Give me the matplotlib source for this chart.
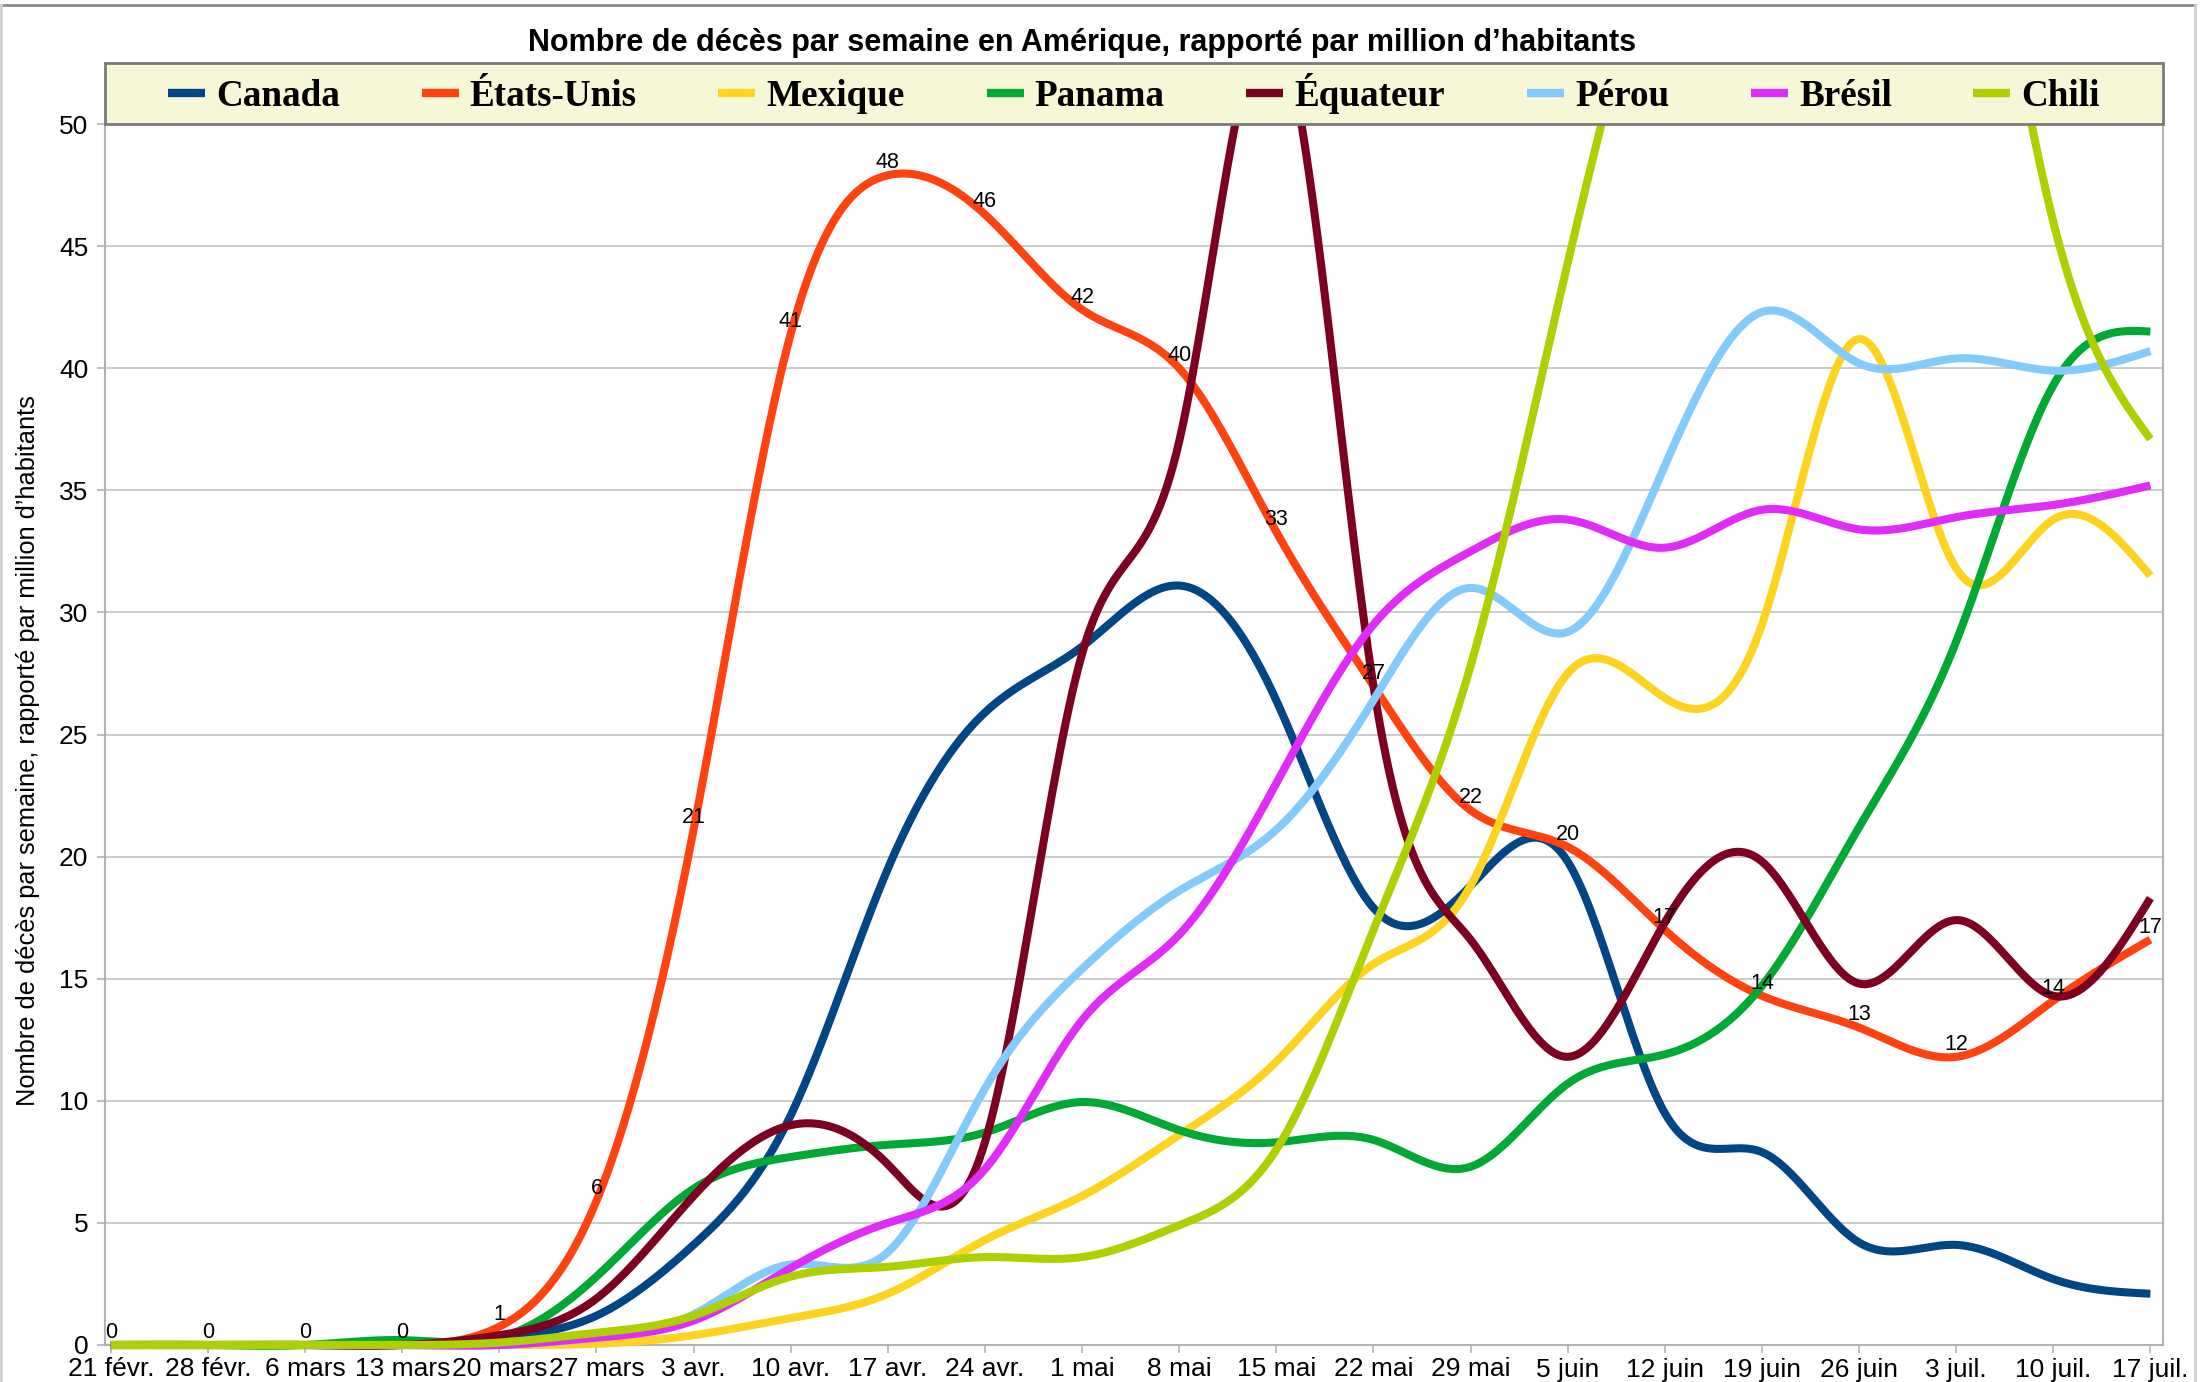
import numpy as np
import matplotlib
matplotlib.use("Agg")
import matplotlib.pyplot as plt
from matplotlib.patches import Rectangle
from matplotlib.lines import Line2D

plt.rcParams['font.family'] = ['Liberation Sans', 'DejaVu Sans']

# ---------------- data ----------------
dates = ["21 févr.", "28 févr.", "6 mars", "13 mars", "20 mars", "27 mars", "3 avr.",
         "10 avr.", "17 avr.", "24 avr.", "1 mai", "8 mai", "15 mai", "22 mai", "29 mai",
         "5 juin", "12 juin", "19 juin", "26 juin", "3 juil.", "10 juil.", "17 juil."]

canada = [0, 0, 0, 0, 0.3, 1.2, 4.1, 9.4, 19.5, 25.9, 28.6, 31.1, 26.4, 17.9, 18.8, 19.8,
          9.5, 7.9, 4.2, 4.1, 2.7, 2.1]
etats_unis = [0, 0, 0, 0, 0.75, 5.9, 21.1, 41.4, 47.9, 46.3, 42.4, 40.0, 33.3, 27.0, 21.9, 20.4,
              17.0, 14.3, 13.0, 11.8, 14.1, 16.6]
mexique = [0, 0, 0, 0, 0, 0.05, 0.4, 1.1, 2.1, 4.3, 6.1, 8.6, 11.6, 15.6, 18.8, 27.5,
           26.5, 29.5, 41.2, 31.8, 33.8, 31.5]
panama = [0, 0, 0, 0.2, 0.3, 2.8, 6.4, 7.7, 8.2, 8.7, 9.95, 8.8, 8.3, 8.4, 7.3, 10.7,
          11.9, 14.7, 21.2, 28.8, 39.3, 41.5]
equateur = [0, 0, 0, 0, 0.4, 1.9, 6.1, 9.0, 7.4, 8.3, 28.3, 37.0, 54.0, 27.0, 16.6, 11.8,
            17.3, 19.8, 14.8, 17.4, 14.3, 18.3]
perou = [0, 0, 0, 0, 0, 0.3, 1.25, 3.3, 3.8, 10.5, 15.4, 18.6, 21.1, 26.4, 31.0, 29.2,
         36.0, 42.3, 40.2, 40.4, 39.9, 40.7]
bresil = [0, 0, 0, 0, 0, 0.3, 1.0, 3.15, 5.0, 7.2, 13.3, 16.8, 23.0, 29.5, 32.5, 33.8,
          32.65, 34.2, 33.4, 33.9, 34.4, 35.2]
chili = [0, 0, 0, 0, 0.1, 0.5, 1.2, 2.8, 3.2, 3.6, 3.6, 4.9, 8.0, 17.0, 27.8, 44.3,
         60.0, 72.0, 72.0, 65.0, 46.0, 37.1]

names = ["Canada", "États-Unis", "Mexique", "Panama", "Équateur", "Pérou", "Brésil", "Chili"]
values = [canada, etats_unis, mexique, panama, equateur, perou, bresil, chili]
colors = ["#004586", "#ff420e", "#ffd320", "#00a933", "#7e0021", "#83caff", "#e02cf8", "#aecf00"]

title = "Nombre de décès par semaine en Amérique, rapporté par million d’habitants"
ylabel = "Nombre de décès par semaine, rapporté par million d’habitants"


def natural_spline(x, y, per=30):
    x = np.asarray(x, float)
    y = np.asarray(y, float)
    n = len(x)
    h = np.diff(x)
    A = np.zeros((n, n))
    b = np.zeros(n)
    A[0, 0] = 1
    A[-1, -1] = 1
    for i in range(1, n - 1):
        A[i, i - 1] = h[i - 1]
        A[i, i] = 2 * (h[i - 1] + h[i])
        A[i, i + 1] = h[i]
        b[i] = 6 * ((y[i + 1] - y[i]) / h[i] - (y[i] - y[i - 1]) / h[i - 1])
    M = np.linalg.solve(A, b)
    xs_all, ys_all = [], []
    for i in range(n - 1):
        t = np.linspace(x[i], x[i + 1], per, endpoint=(i == n - 2))
        a = x[i + 1] - t
        c = t - x[i]
        s = (M[i] * a ** 3 / (6 * h[i]) + M[i + 1] * c ** 3 / (6 * h[i])
             + (y[i] / h[i] - M[i] * h[i] / 6) * a + (y[i + 1] / h[i] - M[i + 1] * h[i] / 6) * c)
        xs_all.append(t)
        ys_all.append(s)
    return np.concatenate(xs_all), np.concatenate(ys_all)


W, H = 2202, 1382
fig = plt.figure(figsize=(W / 100, H / 100), dpi=100)
ax_l, ax_r, ax_t, ax_b = 105, 2163, 124, 1345
ax = fig.add_axes([ax_l / W, 1 - ax_b / H, (ax_r - ax_l) / W, (ax_b - ax_t) / H])

x = np.arange(len(dates))
handles = []
for name, vals, col in zip(names, values, colors):
    xs, ys = natural_spline(x, vals)
    ln, = ax.plot(xs, ys, color=col, lw=5.8, solid_capstyle='butt', solid_joinstyle='round',
                  zorder=3)
    clip = Rectangle((0, -0.03), 1, 1.03, transform=ax.transAxes)
    ln.set_clip_path(clip)
    handles.append(Line2D([], [], color=col, lw=6, solid_capstyle='butt', label=name))

for i, v in enumerate(etats_unis):
    ax.annotate(f"{int(round(v))}", (i, v), xytext=(0, 1.5), textcoords='offset points',
                ha='center', va='bottom', fontsize=15.5, color='black', zorder=6)

ax.set_xlim(-0.06, 21.13)
ax.set_ylim(0, 50)
ax.set_xticks(x)
ax.set_xticklabels(dates)
ax.set_yticks(np.arange(0, 51, 5))
ax.tick_params(axis='x', length=6, width=1.2, color='#b3b3b3', pad=3, labelsize=19)
ax.tick_params(axis='y', length=6, width=1.2, color='#b3b3b3', pad=6, labelsize=19)
ax.yaxis.grid(True, color='#c8c8c8', lw=1.3)
ax.set_axisbelow(True)
for s in ['left', 'bottom', 'right']:
    ax.spines[s].set_color('#b3b3b3')
    ax.spines[s].set_linewidth(1.5)
ax.spines['top'].set_visible(False)

# title and y label
fig.text(1082 / W, 1 - 43 / H, title, ha='center', va='center', fontsize=22, fontweight='bold')
fig.text(28 / W, 1 - 751 / H, ylabel, ha='center', va='center', rotation=90, fontsize=18.3)

# legend box
lg_top, lg_bot = 63, 124
fig.patches.append(Rectangle((ax_l / W, 1 - lg_bot / H), (ax_r - ax_l) / W, (lg_bot - lg_top) / H,
                             transform=fig.transFigure, facecolor='#f6f7d6', edgecolor='#7a7a7a',
                             lw=2, zorder=5))
leg = fig.legend(handles=handles, loc='center',
                 bbox_to_anchor=((ax_l + ax_r) / 2 / W, 1 - (lg_top + lg_bot) / 2 / H),
                 ncol=8, frameon=False, handlelength=1.0, handletextpad=0.3,
                 columnspacing=2.2, borderpad=0,
                 prop={'family': ['Liberation Serif', 'DejaVu Serif'], 'weight': 'bold', 'size': 26.7})
leg.set_zorder(6)

# outer frame of the picture
fig.add_artist(Line2D([0, 2195 / W], [1 - 5 / H, 1 - 5 / H], transform=fig.transFigure,
                      color='#8a8a8a', lw=2))
fig.add_artist(Line2D([1 / W, 1 / W], [0, 1 - 5 / H], transform=fig.transFigure,
                      color='#d0d0d0', lw=2))
fig.add_artist(Line2D([2195 / W, 2195 / W], [0, 1 - 5 / H], transform=fig.transFigure,
                      color='#d0d0d0', lw=2))

fig.savefig("out.png", dpi=100)
